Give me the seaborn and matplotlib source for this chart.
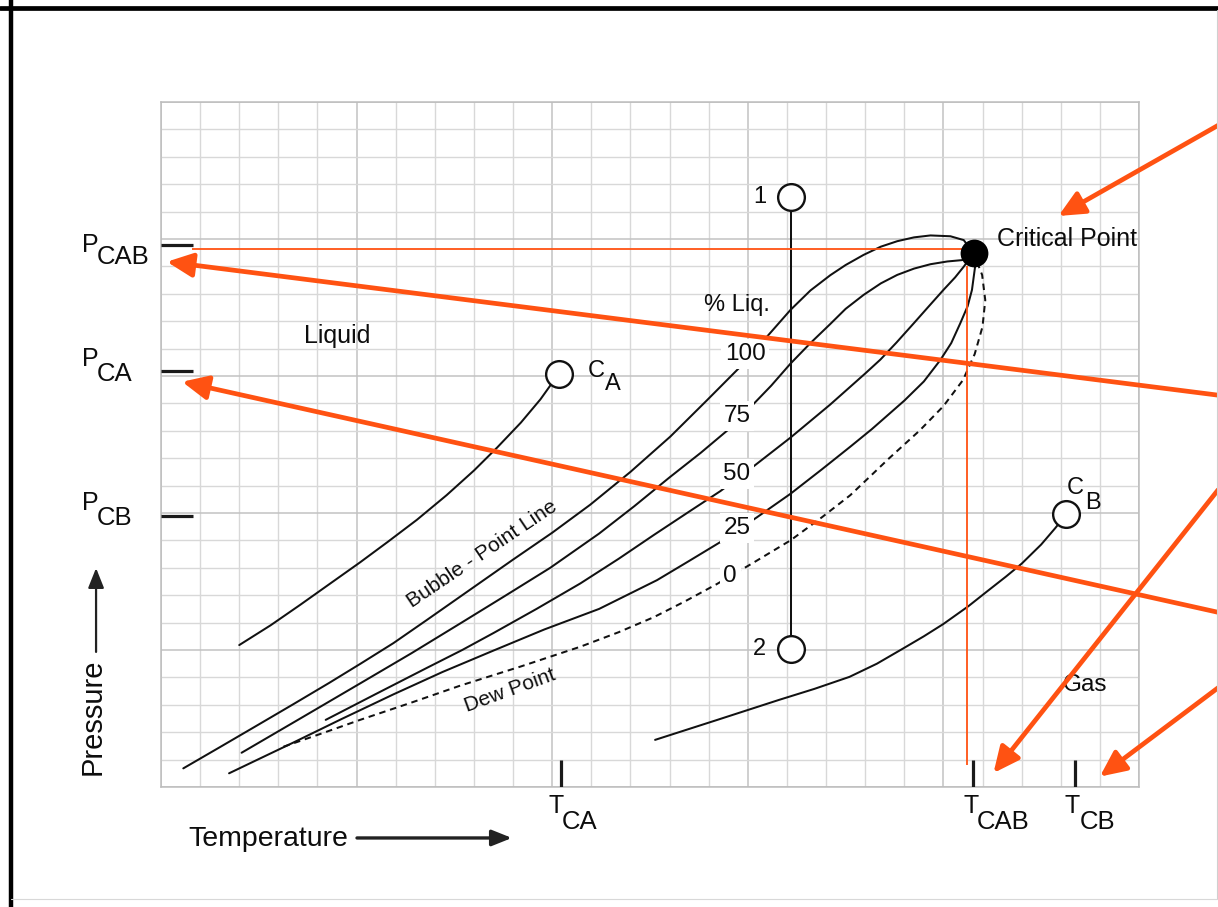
import numpy as np
import matplotlib
matplotlib.use("Agg")
import matplotlib.pyplot as plt
from matplotlib.lines import Line2D
import seaborn as sns

# ---------------- data (grid units: temperature 0-25, pressure 0-25) ----------------
bubble_T = [0.57, 1.5, 2.4, 3.38, 4.3, 5.1, 5.94, 6.8, 7.6, 8.3, 9.0, 10.0, 10.97, 12.0, 13.02,
            13.96, 14.81, 15.45, 16.09, 16.6, 17.11, 17.5, 17.96, 18.4, 18.82, 19.25, 19.67,
            20.18, 20.52, 20.77]
bubble_P = [0.68, 1.45, 2.2, 3.02, 3.8, 4.5, 5.25, 6.1, 6.9, 7.6, 8.3, 9.28, 10.3, 11.5, 12.79,
            14.12, 15.34, 16.37, 17.41, 18.12, 18.68, 19.05, 19.42, 19.72, 19.92, 20.06, 20.13,
            20.10, 19.96, 19.48]

liq75_T = [2.06, 3.5, 5.09, 6.4, 7.65, 8.8, 9.95, 11.2, 12.1, 13.0, 13.8, 14.55, 15.06, 15.6,
           16.09, 16.6, 17.11, 17.5, 17.96, 18.4, 18.82, 19.25, 19.67, 20.1, 20.48, 20.77]
liq75_P = [1.25, 2.45, 3.78, 4.88, 5.97, 6.98, 8.0, 9.25, 10.25, 11.3, 12.2, 13.1, 13.85, 14.65,
           15.45, 16.2, 16.9, 17.45, 17.96, 18.38, 18.69, 18.92, 19.08, 19.18, 19.23, 19.48]

liq50_T = [4.21, 5.5, 6.8, 7.7, 8.5, 9.6, 10.72, 11.7, 12.6, 13.5, 14.3, 15.1, 16.09, 17.1,
           18.0, 18.39, 18.8, 19.24, 19.6, 20.0, 20.3, 20.52, 20.77]
liq50_P = [2.45, 3.4, 4.35, 5.0, 5.62, 6.5, 7.43, 8.33, 9.2, 10.05, 10.8, 11.65, 12.75, 13.95,
           15.09, 15.6, 16.22, 16.92, 17.5, 18.14, 18.6, 18.99, 19.48]

liq25_T = [1.74, 2.5, 3.38, 4.6, 5.94, 7.2, 8.5, 9.8, 11.2, 12.68, 13.5, 14.38, 15.24, 16.09,
           16.9, 17.62, 18.17, 19.0, 19.5, 19.92, 20.2, 20.43, 20.62, 20.73, 20.81, 20.77]
liq25_P = [0.5, 1.02, 1.62, 2.47, 3.38, 4.2, 4.98, 5.75, 6.5, 7.55, 8.25, 9.01, 9.85, 10.7,
           11.6, 12.42, 13.06, 14.1, 14.8, 15.58, 16.2, 16.92, 17.55, 18.14, 18.99, 19.48]

dew_T = [3.13, 4.1, 5.09, 6.4, 7.65, 9.2, 10.72, 11.7, 12.6, 13.4, 14.2, 15.1, 16.09, 16.9,
         17.62, 18.1, 18.6, 19.0, 19.4, 20.0, 20.5, 20.8, 21.0, 21.07, 20.99, 20.77]
dew_P = [1.47, 1.95, 2.45, 3.08, 3.7, 4.4, 5.12, 5.65, 6.2, 6.78, 7.4, 8.15, 9.0, 9.85,
         10.65, 11.3, 11.98, 12.5, 13.02, 13.9, 14.85, 15.8, 16.8, 17.77, 18.69, 19.48]

compA_T = [2.0, 2.8, 3.56, 4.3, 5.09, 5.8, 6.54, 7.3, 8.0, 8.6, 9.2, 9.7, 10.17]
compA_P = [5.18, 5.9, 6.65, 7.4, 8.2, 8.95, 9.75, 10.65, 11.55, 12.4, 13.3, 14.15, 15.09]

compB_T = [12.63, 14.2, 15.8, 16.7, 17.6, 18.3, 19.0, 19.5, 20.0, 20.64, 21.1, 21.6, 22.0,
           22.5, 22.86, 23.14]
compB_P = [1.72, 2.44, 3.18, 3.58, 4.02, 4.5, 5.08, 5.5, 5.95, 6.6, 7.12, 7.68, 8.15,
           8.85, 9.45, 9.95]

path12_T = [16.11, 16.11]
path12_P = [21.55, 5.05]

crit_T, crit_P = [20.77], [19.48]
open_T = [16.11, 16.11, 10.17, 23.14]      # points 1, 2, C_A, C_B
open_P = [21.55, 5.05, 15.09, 9.95]

P_tick_names = ["CAB", "CA", "CB"]
P_tick_vals = [19.78, 15.18, 9.89]
T_tick_names = ["CA", "CAB", "CB"]
T_tick_vals = [10.22, 20.76, 23.36]

pct_labels = ["100", "75", "50", "25", "0"]

guide_P = 19.62          # thin orange horizontal guide (P_CAB level)
guide_T = 20.61          # thin orange vertical guide (T_CAB level)

ORANGE = "#FF5212"

# ---------------- figure ----------------
sns.set_theme(style="white")
plt.rcParams['font.family'] = ['Liberation Sans', 'DejaVu Sans']

W, H = 1218, 907
fig = plt.figure(figsize=(W / 100, H / 100), dpi=100)
ax = fig.add_axes([161 / W, 120 / H, 978 / W, 685 / H])
ax.set_xlim(0, 25)
ax.set_ylim(0, 25)
ax.set_xticks(np.arange(0, 26, 5))
ax.set_yticks(np.arange(0, 26, 5))
ax.set_xticks(np.arange(0, 26, 1), minor=True)
ax.set_yticks(np.arange(0, 26, 1), minor=True)
ax.grid(which='minor', color='#d8d8d8', lw=1.0)
ax.grid(which='major', color='#c2c2c2', lw=1.1)
ax.set_axisbelow(True)
ax.tick_params(which='both', length=0, labelbottom=False, labelleft=False)
for s in ax.spines.values():
    s.set_color('#bdbdbd')
    s.set_linewidth(1.1)
ax.set_xlabel("")
ax.set_ylabel("")

LW = 1.45
for T, P in [(bubble_T, bubble_P), (liq75_T, liq75_P), (liq50_T, liq50_P),
             (liq25_T, liq25_P), (compA_T, compA_P), (compB_T, compB_P),
             (path12_T, path12_P)]:
    sns.lineplot(x=T, y=P, sort=False, estimator=None, ax=ax, color='#111111', lw=LW, zorder=3)
sns.lineplot(x=dew_T, y=dew_P, sort=False, estimator=None, ax=ax, color='#111111', lw=LW,
             linestyle=(0, (3.2, 2.4)), zorder=3)

# thin orange guides
ax.hlines(guide_P, 0.78, guide_T, color=ORANGE, lw=1.3, zorder=4)
ax.vlines(guide_T, 0.8, 19.0, color=ORANGE, lw=1.3, zorder=4)

# circles
sns.scatterplot(x=open_T, y=open_P, s=370, color='white', edgecolor='#111111', linewidth=1.7,
                ax=ax, zorder=6, legend=False)
sns.scatterplot(x=crit_T, y=crit_P, s=400, color='black', edgecolor='black', linewidth=0,
                ax=ax, zorder=6, legend=False)

# axis marks
ax.hlines(P_tick_vals, 0, 0.82, color='#1a1a1a', lw=2.3, zorder=5)
ax.vlines(T_tick_vals, 0, 1.0, color='#1a1a1a', lw=2.3, zorder=5)

def txt(x, y, s, size=17, **kw):
    kw.setdefault('ha', 'center')
    kw.setdefault('va', 'center')
    ax.text(x, y, s, fontsize=size, color='#0d0d0d', zorder=7, **kw)

# P labels
P_main_y = [19.85, 15.69, 10.44]
P_sub_y = [19.42, 15.15, 9.89]
for name, py, sy in zip(P_tick_names, P_main_y, P_sub_y):
    txt(-1.815, py - 0.08, "P", size=18)
    txt(-1.64, sy - 0.08, name, size=18.5, ha='left')

# T labels
T_main_x = [10.10, 20.71, 23.29]
T_sub_x = [10.25, 20.86, 23.49]
for name, tx, sx in zip(T_tick_names, T_main_x, T_sub_x):
    txt(tx, -0.68, "T", size=18)
    txt(sx, -1.27, name, size=18.5, ha='left')

# axis titles with arrows
txt(2.74, -1.9, "Temperature", size=20.5)
ax.annotate('', xy=(8.97, -1.86), xytext=(5.01, -1.86), xycoords='data',
            arrowprops=dict(arrowstyle='-|>,head_length=0.55,head_width=0.22', color='#222222',
                            lw=2.4, shrinkA=0, shrinkB=0, mutation_scale=22),
            annotation_clip=False)
txt(-1.74, 2.55, "Pressure", size=21)
ax.texts[-1].set_rotation(90)
ax.annotate('', xy=(-1.66, 7.99), xytext=(-1.66, 4.93), xycoords='data',
            arrowprops=dict(arrowstyle='-|>,head_length=0.55,head_width=0.22', color='#222222',
                            lw=1.6, shrinkA=0, shrinkB=0, mutation_scale=22),
            annotation_clip=False)

# region / point labels
txt(4.5, 16.45, "Liquid", size=18)
txt(23.62, 3.72, "Gas", size=17.5)
txt(21.37, 20.0, "Critical Point", size=18)
ax.texts[-1].set_ha('left')
txt(15.31, 21.52, "1", size=17)
txt(15.31, 5.02, "2", size=17)
txt(11.12, 15.2, "C", size=17)
txt(11.35, 14.7, "A", size=17, ha='left')
txt(23.36, 10.9, "C", size=17)
txt(23.62, 10.35, "B", size=17, ha='left')
txt(14.72, 17.6, "% Liq.", size=17)

pct_x = [14.93, 14.72, 14.72, 14.72, 14.55]
pct_y = [15.8, 13.54, 11.42, 9.45, 7.7]
for s, x, y in zip(pct_labels, pct_x, pct_y):
    txt(x, y, s, size=17.5,
        bbox=dict(boxstyle='square,pad=0.15', fc='white', ec='none'))

txt(8.21, 8.5, "Bubble - Point Line", size=15, rotation=34, rotation_mode='anchor')
txt(8.92, 3.52, "Dew Point", size=15, rotation=20, rotation_mode='anchor')

# orange callout arrows: (head in data units, tail in axes fraction)
arrow_heads = [(22.94, 20.84), (0.15, 19.17), (0.54, 14.79), (21.28, 0.51), (24.0, 0.38)]
arrow_tails = [(1.081, 0.966), (1.081, 0.572), (1.081, 0.255), (1.081, 0.434), (1.081, 0.145)]
for head, tail in zip(arrow_heads, arrow_tails):
    ax.annotate('', xy=head, xycoords='data', xytext=tail, textcoords='axes fraction',
                arrowprops=dict(arrowstyle='-|>,head_length=0.6,head_width=0.28', color=ORANGE,
                                lw=3.4, shrinkA=0, shrinkB=0, mutation_scale=26),
                annotation_clip=False, zorder=10)

# picture frame
fig.add_artist(Line2D([10.5 / W, 10.5 / W], [0, 1], transform=fig.transFigure, color='black', lw=3.2))
fig.add_artist(Line2D([0, 1], [1 - 8.3 / H, 1 - 8.3 / H], transform=fig.transFigure, color='black', lw=3.4))
fig.add_artist(Line2D([1216.5 / W, 1216.5 / W], [8 / H, 1 - 10 / H], transform=fig.transFigure,
                      color='#d0d0d0', lw=0.8))
fig.add_artist(Line2D([10.5 / W, 1216.5 / W], [8 / H, 8 / H], transform=fig.transFigure,
                      color='#d8d8d8', lw=0.8))

fig.savefig("out.png", dpi=100, facecolor='white')
